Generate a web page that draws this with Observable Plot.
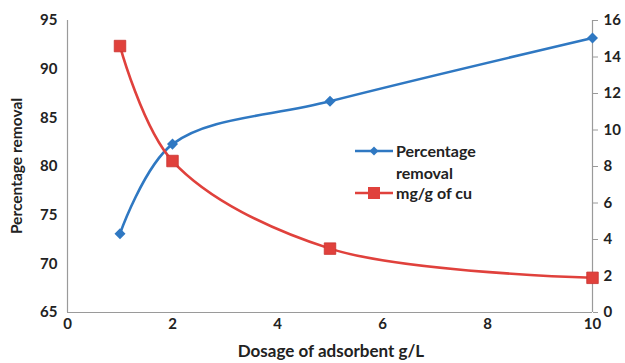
<!DOCTYPE html>
<html>
<head>
<meta charset="utf-8">
<script src="https://cdn.jsdelivr.net/npm/d3@7"></script>
<script src="https://cdn.jsdelivr.net/npm/@observablehq/plot@0.6"></script>
<style>
  html, body { margin: 0; padding: 0; background: #fff; }
  #chart { width: 625px; height: 363px; }
</style>
</head>
<body>
<div id="chart"></div>
<script>
// Adsorbent dosage (g/L)
const dosage = [1, 2, 5, 10];
// Percentage removal (left axis)
const removal = [73.1, 82.3, 86.7, 93.2];
// Uptake, mg/g of Cu (right axis)
const uptake = [14.6, 8.3, 3.5, 1.9];

const leftTicks = [65, 70, 75, 80, 85, 90, 95];
const rightTicks = [0, 2, 4, 6, 8, 10, 12, 14, 16];
const xTicks = [0, 2, 4, 6, 8, 10];

const blue = "#2f78c2";
const red = "#e0413c";
const grey = "#9a9a9a";

// right axis 0–16 shares the plotting range of the left axis 65–95
const toLeft = v => 65 + v * 30 / 16;
const toRight = v => (v - 65) * 16 / 30;

// square diamond marker (equal width and height)
const rhombus = {
  draw(context, size) {
    const h = Math.sqrt(size / 2);
    context.moveTo(0, -h);
    context.lineTo(h, 0);
    context.lineTo(0, h);
    context.lineTo(-h, 0);
    context.closePath();
  }
};

const removalData = dosage.map((x, i) => ({x, y: removal[i]}));
const uptakeData = dosage.map((x, i) => ({x, y: toLeft(uptake[i])}));

const chart = Plot.plot({
  width: 625,
  height: 363,
  marginLeft: 67,
  marginRight: 33,
  marginTop: 20,
  marginBottom: 51,
  style: {fontFamily: "Lato, sans-serif", fontSize: "15px", fontWeight: "bold", color: "#222", background: "#fff"},
  x: {domain: [0, 10]},
  y: {domain: [65, 95]},
  marks: [
    Plot.ruleX([0, 10], {stroke: grey, strokeWidth: 1.2}),
    Plot.ruleY([65], {stroke: grey, strokeWidth: 1.2}),
    Plot.axisX(xTicks, {tickSize: 0, tickPadding: 6, label: null}),
    Plot.axisY(leftTicks, {anchor: "left", tickSize: 0, tickPadding: 10, label: null}),
    Plot.axisY(rightTicks.map(toLeft), {anchor: "right", tickSize: 5, tickPadding: 6, stroke: grey,
      tickFormat: d => String(Math.round(toRight(d))), label: null}),
    Plot.line(removalData, {x: "x", y: "y", stroke: blue, strokeWidth: 2.6, curve: "catmull-rom"}),
    Plot.dot(removalData, {x: "x", y: "y", symbol: rhombus, fill: blue, r: 4.4}),
    Plot.line(uptakeData, {x: "x", y: "y", stroke: red, strokeWidth: 2.6, curve: "catmull-rom"}),
    Plot.dot(uptakeData, {x: "x", y: "y", symbol: "square", fill: red, stroke: "#c93330", strokeWidth: 0.8, r: 6.5})
  ]
});

const svg = d3.select(chart);

// axis titles
svg.append("text")
  .attr("x", 331).attr("y", 357)
  .attr("text-anchor", "middle")
  .style("font", "bold 17px Lato, sans-serif").attr("fill", "#222")
  .text("Dosage of adsorbent g/L");
svg.append("text")
  .attr("transform", "translate(22,166) rotate(-90)")
  .attr("text-anchor", "middle")
  .style("font", "bold 15.5px Lato, sans-serif").attr("fill", "#222")
  .text("Percentage removal");

// legend
const lg = svg.append("g")
  .attr("text-anchor", "start")
  .style("font", "bold 16px Lato, sans-serif").attr("fill", "#222");
lg.append("line").attr("x1", 355).attr("x2", 393).attr("y1", 151).attr("y2", 151)
  .attr("stroke", blue).attr("stroke-width", 2.6);
lg.append("path").attr("d", d3.symbol(rhombus, 40)())
  .attr("transform", "translate(374,151)").attr("fill", blue);
lg.append("text").attr("x", 396).attr("y", 157).attr("text-anchor", "start").text("Percentage");
lg.append("text").attr("x", 396).attr("y", 179).attr("text-anchor", "start").text("removal");
lg.append("line").attr("x1", 355).attr("x2", 393).attr("y1", 193).attr("y2", 193)
  .attr("stroke", red).attr("stroke-width", 2.6);
lg.append("rect").attr("x", 368).attr("y", 187).attr("width", 12).attr("height", 12).attr("fill", red);
lg.append("text").attr("x", 396).attr("y", 199).attr("text-anchor", "start").text("mg/g of cu");

document.getElementById("chart").appendChild(chart);
</script>
</body>
</html>
